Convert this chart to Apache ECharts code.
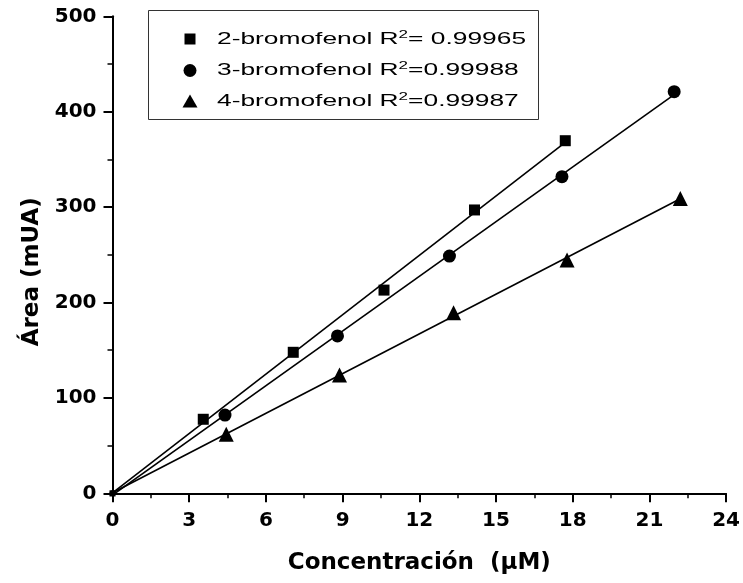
<!DOCTYPE html>
<html>
<head>
<meta charset="utf-8">
<script src="https://cdn.jsdelivr.net/npm/echarts@6/dist/echarts.min.js"></script>
<style>
  html, body { margin: 0; padding: 0; background: #fff; }
  #chart { width: 743px; height: 583px; }
</style>
</head>
<body>
<div id="chart"></div>
<script>
// Calibration data: concentration (µM) vs peak area (mUA)
const seriesNames = ['2-bromofenol', '3-bromofenol', '4-bromofenol'];
const r2Labels = ['= 0.99965', '=0.99988', '=0.99987'];
const symbols = ['rect', 'circle', 'triangle'];

const conc2 = [0, 3.55, 7.07, 10.62, 14.16, 17.71];
const area2 = [0, 77.6, 147.8, 213, 297, 369.6];
const conc3 = [0, 4.40, 8.80, 13.18, 17.58, 21.97];
const area3 = [0, 82, 165, 248.7, 331.9, 421];
const conc4 = [0, 4.45, 8.88, 13.34, 17.78, 22.21];
const area4 = [0, 62, 124, 189.3, 244.5, 309];

const xTicks = [0, 3, 6, 9, 12, 15, 18, 21, 24];
const yTicks = [0, 100, 200, 300, 400, 500];

const sets = [[conc2, area2], [conc3, area3], [conc4, area4]];

// Least-squares fit for each calibration set
function linearFit(xs, ys) {
  const n = xs.length;
  let sx = 0, sy = 0, sxx = 0, sxy = 0;
  for (let i = 0; i < n; i++) {
    sx += xs[i]; sy += ys[i]; sxx += xs[i] * xs[i]; sxy += xs[i] * ys[i];
  }
  const slope = (n * sxy - sx * sy) / (n * sxx - sx * sx);
  const intercept = (sy - slope * sx) / n;
  return { slope, intercept };
}

const boldFont = '"DejaVu Sans", Verdana, sans-serif';
const legendFont = '"Liberation Sans", Arial, Helvetica, sans-serif';

const series = [];
sets.forEach(([xs, ys], i) => {
  const fit = linearFit(xs, ys);
  const x0 = Math.min(...xs), x1 = Math.max(...xs);
  series.push({
    name: seriesNames[i] + ' (ajuste)',
    type: 'line',
    data: [[x0, fit.slope * x0 + fit.intercept], [x1, fit.slope * x1 + fit.intercept]],
    showSymbol: false,
    lineStyle: { color: '#000', width: 1.6 },
    silent: true,
    z: 2
  });
});
const markerSizes = [11, 13, 15];
sets.forEach(([xs, ys], i) => {
  series.push({
    name: seriesNames[i],
    type: 'scatter',
    data: xs.map((x, k) => [x, ys[k]]),
    symbol: symbols[i],
    symbolSize: (v) => (v[0] === 0 ? 6 : markerSizes[i]),
    itemStyle: { color: '#000', opacity: 1 },
    clip: false,
    z: 3
  });
});

// Boxed key in the upper-left corner of the plot
const keyRows = [39, 70.5, 101.5];
const keyMarkerX = 190;
const keyTextX = 217;
const keyElements = [{
  type: 'rect',
  shape: { x: 148.5, y: 10.5, width: 390, height: 109 },
  style: { fill: null, stroke: '#333', lineWidth: 1 },
  z: 10
}];
keyRows.forEach((cy, i) => {
  if (symbols[i] === 'rect') {
    keyElements.push({ type: 'rect', shape: { x: keyMarkerX - 5.5, y: cy - 5.5, width: 11, height: 11 }, style: { fill: '#000' }, z: 10 });
  } else if (symbols[i] === 'circle') {
    keyElements.push({ type: 'circle', shape: { cx: keyMarkerX, cy: cy, r: 6.5 }, style: { fill: '#000' }, z: 10 });
  } else {
    keyElements.push({ type: 'polygon', shape: { points: [[keyMarkerX, cy - 7], [keyMarkerX + 7.5, cy + 6], [keyMarkerX - 7.5, cy + 6]] }, style: { fill: '#000' }, z: 10 });
  }
  keyElements.push({
    type: 'text',
    x: keyTextX,
    y: cy,
    scaleX: 1.55,
    originX: 0,
    originY: 0,
    z: 10,
    style: {
      text: '{t|' + seriesNames[i] + ' R}{s|2}{t|' + r2Labels[i] + '}',
      align: 'left',
      verticalAlign: 'middle',
      rich: {
        t: { fontFamily: legendFont, fontSize: 17, fill: '#000', lineHeight: 20 },
        s: { fontFamily: legendFont, fontSize: 11, fill: '#000', verticalAlign: 'top', lineHeight: 20, padding: [0, 0, 8, 0] }
      }
    }
  });
});

const chart = echarts.init(document.getElementById('chart'), null, { renderer: 'canvas' });
chart.setOption({
  animation: false,
  backgroundColor: '#fff',
  grid: { left: 112.5, right: 16.3, top: 16.3, bottom: 89.7 },
  xAxis: {
    type: 'value',
    min: xTicks[0], max: xTicks[xTicks.length - 1], interval: 3,
    name: 'Concentración  (μM)',
    nameLocation: 'middle',
    nameGap: 58,
    nameTextStyle: { fontFamily: boldFont, fontWeight: 'bold', fontSize: 23, color: '#000' },
    axisLine: { lineStyle: { color: '#000', width: 2 } },
    axisTick: { inside: false, length: 9, lineStyle: { color: '#000', width: 2 } },
    minorTick: { show: true, splitNumber: 2, length: 5, lineStyle: { color: '#000', width: 1.5 } },
    axisLabel: { margin: 17, fontFamily: boldFont, fontWeight: 'bold', fontSize: 20, color: '#000' },
    splitLine: { show: false }
  },
  yAxis: {
    type: 'value',
    min: yTicks[0], max: yTicks[yTicks.length - 1], interval: 100,
    name: 'Área (mUA)',
    nameLocation: 'middle',
    nameGap: 68,
    nameTextStyle: { fontFamily: boldFont, fontWeight: 'bold', fontSize: 23, color: '#000', padding: [0, 34, 0, 0] },
    axisLine: { show: true, lineStyle: { color: '#000', width: 2 } },
    axisTick: { show: true, inside: false, length: 9, lineStyle: { color: '#000', width: 2 } },
    minorTick: { show: true, splitNumber: 2, length: 5, lineStyle: { color: '#000', width: 1.5 } },
    axisLabel: { margin: 16, fontFamily: boldFont, fontWeight: 'bold', fontSize: 20, color: '#000' },
    splitLine: { show: false }
  },
  graphic: keyElements,
  series: series
});
</script>
</body>
</html>
